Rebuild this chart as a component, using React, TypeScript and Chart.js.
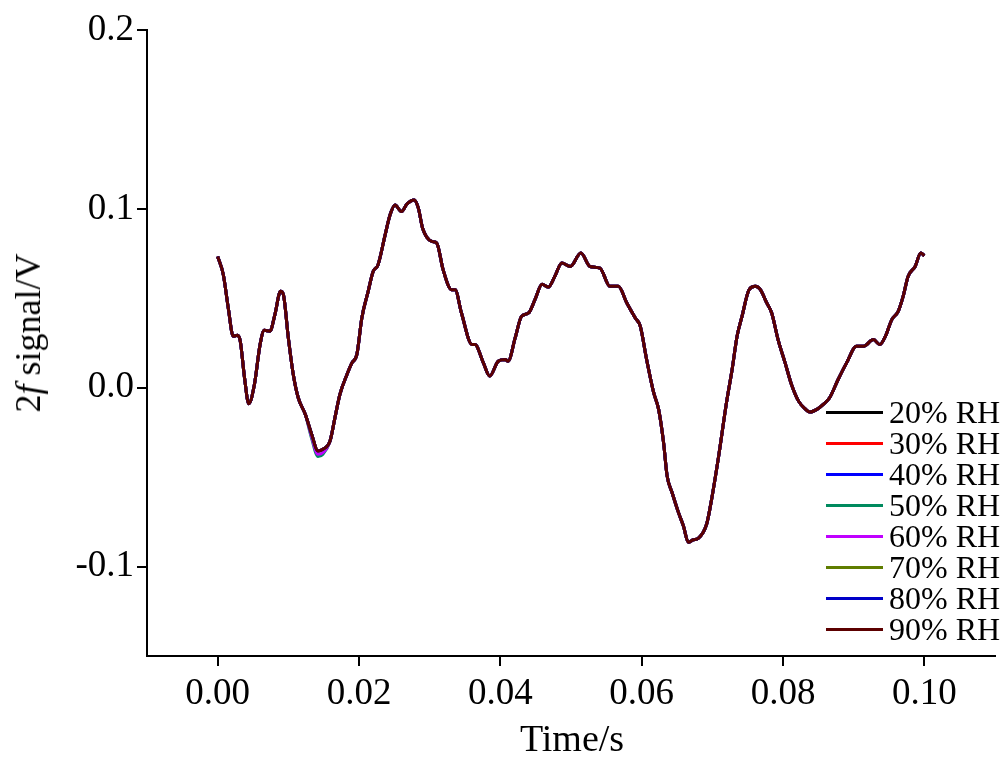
import React, { useEffect, useRef } from "react";
import { Chart, registerables } from "chart.js";

Chart.register(...registerables);

// ---- data ----
const timeS = [
  0.0, 0.0008, 0.0015, 0.0022, 0.0028, 0.0032, 0.0038, 0.0044, 0.0052, 0.006,
  0.0066, 0.0074, 0.0081, 0.0089, 0.0093, 0.01, 0.0107, 0.0114, 0.0124, 0.0133,
  0.0142, 0.0149, 0.0159, 0.0166, 0.0173, 0.0183, 0.019, 0.0197, 0.0204, 0.0213,
  0.022, 0.0227, 0.0237, 0.0244, 0.0251, 0.026, 0.0268, 0.0278, 0.0284, 0.029,
  0.0303, 0.031, 0.0319, 0.0331, 0.0336, 0.0345, 0.036, 0.0364, 0.0376, 0.0385,
  0.0397, 0.0407, 0.0411, 0.0421, 0.043, 0.044, 0.0449, 0.0459, 0.0468, 0.0477,
  0.0487, 0.0499, 0.0514, 0.0527, 0.0541, 0.0555, 0.0567, 0.0579, 0.0591, 0.0598,
  0.0607, 0.0617, 0.0624, 0.0631, 0.0636, 0.0643, 0.0652, 0.0659, 0.0666, 0.0673,
  0.068, 0.0692, 0.0699, 0.0709, 0.072, 0.0728, 0.0735, 0.0742, 0.0752, 0.0761,
  0.0768, 0.0777, 0.0784, 0.0793, 0.0803, 0.0812, 0.0822, 0.0831, 0.0838, 0.0848,
  0.0857, 0.0866, 0.0878, 0.089, 0.0904, 0.0914, 0.0928, 0.0937, 0.0945, 0.0954,
  0.0963, 0.097, 0.0977, 0.0987, 0.0995, 0.1,
];

const signalV = [
  0.0734, 0.0632, 0.0446, 0.0288, 0.0293, 0.026, 0.0056, -0.0089, 0.0018, 0.0241,
  0.0321, 0.0316, 0.0409, 0.0539, 0.052, 0.0279, 0.0074, -0.0056, -0.0149, -0.026,
  -0.0354, -0.0344, -0.0298, -0.0167, -0.0037, 0.0074, 0.0139, 0.0186, 0.039, 0.0539,
  0.065, 0.0688, 0.0855, 0.0967, 0.1022, 0.0985, 0.1028, 0.105, 0.1004, 0.0892,
  0.0818, 0.0809, 0.066, 0.0548, 0.0548, 0.0418, 0.0241, 0.0241, 0.0139, 0.0065,
  0.0148, 0.0158, 0.0148, 0.0279, 0.0399, 0.0418, 0.0492, 0.0578, 0.0563, 0.0622,
  0.0697, 0.0678, 0.0753, 0.0678, 0.0669, 0.0567, 0.0567, 0.0474, 0.039, 0.0344,
  0.0158, -0.0028, -0.0121, -0.0307, -0.0493, -0.0586, -0.0697, -0.0772, -0.0864, -0.085,
  -0.0842, -0.0762, -0.0623, -0.0381, -0.0084, 0.0102, 0.0288, 0.0399, 0.0548, 0.0567,
  0.0548, 0.0474, 0.0418, 0.0269, 0.0139, 0.0018, -0.0075, -0.0117, -0.0136, -0.0121,
  -0.0093, -0.0056, 0.0046, 0.0139, 0.0232, 0.0232, 0.0269, 0.0241, 0.0288, 0.0381,
  0.0427, 0.0511, 0.0622, 0.0678, 0.0753, 0.0738,
];

// slightly deeper minimum of the 50% / 60% RH curves near t = 0.014 s
const dipTimes = [0.0133, 0.0142, 0.0149];
const dip50 = [-0.0285, -0.0385, -0.0372];
const dip60 = [-0.0275, -0.0372, -0.0362];

const rhLabels = ["20% RH", "30% RH", "40% RH", "50% RH", "60% RH", "70% RH", "80% RH", "90% RH"];
const rhColors = ["#000000", "#ff0000", "#0000ff", "#008a5e", "#c000ff", "#5f7d00", "#0000c8", "#5c0000"];

const xTicks = [0.0, 0.02, 0.04, 0.06, 0.08, 0.1];
const yTicks = [-0.1, 0.0, 0.1, 0.2];

const SERIF = '"Liberation Serif", "Times New Roman", serif';

function seriesPoints(idx: number) {
  return timeS.map((t, i) => {
    let y = signalV[i];
    const d = dipTimes.indexOf(t);
    if (d >= 0 && idx === 3) y = dip50[d];
    if (d >= 0 && idx === 4) y = dip60[d];
    return { x: t, y };
  });
}

export default function App() {
  const ref = useRef<HTMLCanvasElement | null>(null);

  useEffect(() => {
    if (!ref.current) return;
    const chart = new Chart(ref.current, {
      type: "line",
      data: {
        datasets: rhLabels.map((label, i) => ({
          label,
          data: seriesPoints(i),
          borderColor: rhColors[i],
          backgroundColor: rhColors[i],
          borderWidth: 3,
          pointRadius: 0,
          order: rhLabels.length - 1 - i,
          cubicInterpolationMode: "monotone" as const,
          fill: false,
        })),
      },
      options: {
        animation: false,
        responsive: false,
        maintainAspectRatio: false,
        layout: { padding: { top: 30, right: 5, left: 0, bottom: 0 } },
        plugins: { legend: { display: false }, tooltip: { enabled: false } },
        scales: {
          x: {
            type: "linear",
            min: -0.01,
            max: 0.11,
            afterBuildTicks: (s: any) => {
              s.ticks = xTicks.map((v) => ({ value: v }));
            },
            afterFit: (s: any) => {
              s.height = 107;
            },
            border: { display: true, color: "#000", width: 2 },
            grid: { display: true, drawOnChartArea: false, drawTicks: true, tickLength: 10, color: "#000", lineWidth: 2 },
            ticks: {
              color: "#000",
              padding: 6,
              maxRotation: 0,
              autoSkip: false,
              font: { family: SERIF, size: 37 },
              callback: (v: any) => Number(v).toFixed(2),
            },
          },
          y: {
            type: "linear",
            min: -0.15,
            max: 0.2,
            afterBuildTicks: (s: any) => {
              s.ticks = yTicks.map((v) => ({ value: v }));
            },
            afterFit: (s: any) => {
              s.width = 147;
            },
            border: { display: true, color: "#000", width: 2 },
            grid: { display: true, drawOnChartArea: false, drawTicks: true, tickLength: 10, color: "#000", lineWidth: 2 },
            ticks: {
              color: "#000",
              padding: 3,
              autoSkip: false,
              font: { family: SERIF, size: 37 },
              callback: (v: any) => Number(v).toFixed(1),
            },
          },
        },
      },
    });
    return () => chart.destroy();
  }, []);

  return (
    <div style={{ position: "absolute", left: 0, top: 0, width: 1000, height: 763, background: "#fff" }}>
      <canvas ref={ref} width={1000} height={763} style={{ position: "absolute", left: 0, top: 0 }} />
      <div
        style={{
          position: "absolute",
          left: 28,
          top: 333,
          transform: "translate(-50%, -50%) rotate(-90deg)",
          whiteSpace: "nowrap",
          fontFamily: SERIF,
          fontSize: 36,
          lineHeight: "36px",
          color: "#000",
        }}
      >
        2<i>f</i> signal/V
      </div>
      <div
        style={{
          position: "absolute",
          left: 572,
          top: 719,
          transform: "translateX(-50%)",
          whiteSpace: "nowrap",
          fontFamily: SERIF,
          fontSize: 38,
          lineHeight: "38px",
          color: "#000",
        }}
      >
        Time/s
      </div>
      <div style={{ position: "absolute", left: 826, top: 397 }}>
        {rhLabels.map((label, i) => (
          <div key={label} style={{ display: "flex", alignItems: "center", height: 31 }}>
            <span style={{ display: "inline-block", width: 57, height: 3, background: rhColors[i] }} />
            <span
              style={{
                marginLeft: 6,
                fontFamily: SERIF,
                fontSize: 32,
                lineHeight: "31px",
                color: "#000",
                whiteSpace: "nowrap",
              }}
            >
              {label}
            </span>
          </div>
        ))}
      </div>
    </div>
  );
}
